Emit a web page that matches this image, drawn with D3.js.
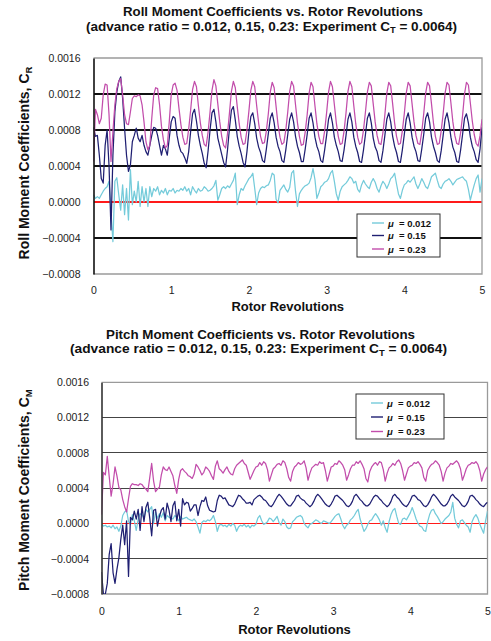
<!DOCTYPE html>
<html>
<head>
<meta charset="utf-8">
<script src="https://cdn.jsdelivr.net/npm/d3@7"></script>
<style>
  body { margin: 0; background: #fff; }
  svg { display: block; }
</style>
</head>
<body>
<svg id="chart" width="491" height="641"></svg>
<script>
// ---- data -------------------------------------------------------------
const revolutionTicks = [0, 1, 2, 3, 4, 5];
const coefficientTicks = [-0.0008, -0.0004, 0, 0.0004, 0.0008, 0.0012, 0.0016];
const seriesLabels = ["0.012", "0.15", "0.23"];
const seriesColors = ["#74cbda", "#1f1f72", "#c24dab"];

const SAMPLE_STEP = 0.025;   // rotor revolutions between samples
const UNIT = 1e-4;           // coefficient arrays are stored in units of 1e-4

// Roll moment coefficient, advance ratio 0.012
const rollMu012 = [
  0.8,0.4,0.6,0.4,0.8,1.2,1.5,1.7,2.3,-1.1,
  -4.4,2.3,2.7,0.8,-0.9,1.9,-1.4,1.5,-2.0,3.6,
  -0.3,1.2,0.0,2.3,-0.5,1.7,0.0,1.5,-0.5,1.7,
  0.6,1.5,1.2,1.7,0.8,1.3,1.0,1.5,0.8,1.3,
  1.2,1.5,1.0,1.3,1.2,1.5,1.3,1.7,1.2,1.5,
  0.8,1.7,1.3,1.0,1.5,1.2,1.3,1.7,1.5,1.2,
  1.3,1.5,1.8,2.4,0.2,0.8,1.5,1.7,1.5,1.8,
  1.6,2.0,2.4,3.2,-0.3,0.8,1.5,1.3,1.8,2.2,
  2.6,
  2.8,3.2,1.5,-0.3,1.0,1.5,1.7,1.6,1.8,1.9,
  2.4,3.2,3.0,0.3,-0.1,1.3,1.6,1.9,1.4,1.1,
  1.6,3.2,3.5,1.2,-0.5,0.9,1.3,1.6,1.8,1.9,
  2.1,2.7,3.7,2.5,0.4,1.0,1.7,1.9,2.2,2.3,
  2.6,3.2,3.5,2.3,0.9,0.2,1.2,1.7,1.9,2.1,
  2.4,2.8,2.6,2.1,2.3,1.4,1.1,1.9,2.4,2.0,
  1.7,1.5,2.2,2.6,2.2,1.5,1.1,1.8,2.3,2.0,
  1.5,2.0,2.6,2.8,3.2,2.0,0.9,0.4,1.3,1.9,
  2.1,2.4,2.2,2.5,2.8,2.0,1.5,2.0,2.6,2.2,
  1.7,1.5,2.1,2.8,3.0,3.2,2.4,1.7,1.5,2.0,
  2.3,2.4,2.6,2.3,1.9,2.2,2.5,2.6,2.7,2.8,
  2.5,2.3,1.4,0.2,1.1,1.9,2.6,3.0,1.1,2.6
];

// Roll moment coefficient, advance ratio 0.15
const rollMu015 = [
  8.3,7.3,7.4,5.2,2.6,2.1,6.3,8.0,4.0,-3.1,
  5.2,10.0,12.2,13.4,13.9,11.5,8.2,5.2,3.4,4.1,
  6.7,7.4,8.2,7.1,6.7,7.4,6.3,5.6,5.2,6.3,
  7.4,8.3,8.2,7.4,6.3,5.2,6.3,5.9,5.2,7.1,
  8.9,9.5,9.3,7.4,6.3,5.6,5.4,4.9,4.3,5.6,
  7.8,9.8,10.3,9.0,7.4,6.3,5.4,4.3,3.8,5.7,
  8.0,9.9,10.3,8.9,7.1,6.2,5.3,4.4,3.9,5.8,
  8.2,10.2,10.6,9.1,7.3,6.2,5.4,4.4,3.9,5.6,
  7.8,9.5,9.9,8.7,7.1,6.1,5.5,4.6,4.4,5.9,
  7.6,9.3,9.9,8.8,7.2,6.2,5.6,4.6,4.4,5.8,
  7.5,9.2,9.9,8.9,7.3,6.2,5.5,4.5,4.5,5.9,
  7.5,9.3,9.9,8.8,7.2,6.2,5.6,4.6,4.4,5.8,
  7.4,9.2,9.9,8.8,7.2,6.3,5.6,4.6,4.5,5.8,
  7.4,9.2,9.9,8.9,7.2,6.2,5.5,4.5,4.4,5.8,
  7.5,9.3,9.9,8.8,7.1,6.1,5.6,4.6,4.4,5.7,
  7.4,9.2,9.9,8.9,7.3,6.2,5.5,4.5,4.4,5.8,
  7.5,9.2,9.9,8.8,7.2,6.2,5.6,4.6,4.5,5.9,
  7.5,9.3,9.9,8.9,7.2,6.2,5.5,4.6,4.4,5.7,
  7.4,9.2,9.9,8.8,7.2,6.1,5.5,4.5,4.4,5.8,
  7.5,9.3,9.8,8.8,7.2,6.2,5.6,4.7,4.4,5.9,
  8.3
];

// Roll moment coefficient, advance ratio 0.23
const rollMu023 = [
  4.5,10.3,9.7,8.7,9.3,11.9,13.1,13.0,9.7,4.5,
  7.8,10.8,12.6,13.4,13.7,11.9,9.7,8.7,8.6,10.0,
  11.5,11.8,11.7,11.9,11.8,10.8,8.9,6.7,5.8,6.3,
  9.3,11.9,12.7,12.6,10.8,8.4,6.9,6.0,6.3,8.9,
  11.9,13.0,13.2,12.4,10.4,8.6,7.2,6.4,6.5,8.1,
  10.2,12.5,13.4,12.8,10.7,8.8,7.4,6.4,6.2,7.8,
  10.0,12.4,13.6,12.9,10.9,8.9,7.3,6.3,6.0,7.6,
  9.9,12.3,13.4,12.7,10.6,8.7,7.2,6.4,6.5,8.0,
  10.1,12.4,13.4,12.8,10.7,8.8,7.3,6.5,6.6,7.9,
  9.8,12.2,13.3,12.7,10.6,8.6,7.2,6.4,6.6,8.0,
  10.0,12.3,13.4,12.9,10.8,8.8,7.3,6.3,6.4,7.8,
  9.7,12.1,13.3,12.8,10.7,8.7,7.3,6.5,6.5,7.9,
  9.9,12.2,13.4,12.8,10.8,8.8,7.3,6.4,6.5,7.9,
  9.9,12.3,13.4,12.8,10.7,8.7,7.2,6.4,6.6,8.0,
  10.0,12.2,13.3,12.9,10.9,8.9,7.4,6.5,6.4,7.7,
  9.7,12.1,13.3,12.9,10.9,8.8,7.3,6.4,6.5,7.9,
  9.8,12.1,13.3,12.9,10.9,8.9,7.4,6.5,6.4,7.8,
  9.8,12.1,13.3,12.9,10.9,8.8,7.3,6.4,6.5,7.9,
  9.8,12.1,13.3,13.0,11.0,8.9,7.4,6.5,6.4,7.7,
  9.6,12.0,13.3,13.0,11.0,9.0,7.5,6.5,6.2,7.4,
  9.2
];

// Pitch moment coefficient, advance ratio 0.012
const pitchMu012 = [
  -0.1,-0.3,-0.2,-0.4,-0.3,-0.5,-0.2,-0.6,-0.4,-0.9,
  -0.3,0.9,1.3,1.5,0.2,-0.1,1.0,0.3,-0.8,0.5,
  1.1,1.0,0.6,1.6,1.3,1.6,1.9,0.0,1.3,0.6,
  1.1,0.7,1.2,0.3,0.9,0.7,0.6,0.5,0.9,0.7,
  0.3,0.8,0.5,0.6,0.7,0.5,0.4,0.3,0.5,0.2,
  -0.4,-1.1,0.1,0.3,0.2,0.4,0.3,0.5,0.9,0.2,
  -0.9,-0.2,-0.1,-0.3,-0.2,-0.4,-0.1,-0.3,0.0,-0.2,
  -0.9,-0.4,-0.2,-0.3,-0.1,-0.4,-0.2,-0.5,-0.2,-0.3,
  -0.1,
  0.6,0.9,0.3,-0.1,0.0,0.2,0.6,0.5,0.2,0.5,
  0.8,0.1,-0.2,0.5,0.2,-0.4,-0.6,-0.5,0.2,0.4,
  0.7,0.8,0.9,0.7,0.0,-0.3,-0.5,-0.1,0.0,0.2,
  0.4,0.3,0.1,0.0,0.3,0.2,0.1,0.0,0.2,0.5,
  0.8,1.0,1.1,0.5,-0.2,-0.6,-0.2,0.0,0.4,0.6,
  0.9,1.3,1.6,0.5,-0.2,-0.9,-0.6,-0.1,0.3,0.4,
  0.8,1.1,0.8,0.4,-0.2,0.3,-0.5,-1.0,0.2,1.0,
  1.5,1.7,0.8,0.0,-0.1,0.5,0.6,0.4,0.8,1.2,
  1.8,1.2,0.5,0.0,-0.3,-0.4,-0.8,-0.9,0.2,1.0,
  1.5,1.6,1.1,0.8,0.4,0.0,0.2,0.5,0.7,0.9,
  1.3,2.4,0.6,-0.1,-0.5,0.3,0.4,0.1,-0.2,-0.4,
  -1.0,0.2,0.7,1.0,0.6,-0.1,-0.6,-1.1,0.3,1.4
];

// Pitch moment coefficient, advance ratio 0.15
const pitchMu015 = [
  -5.5,-8.0,-8.0,-6.8,-3.5,-2.3,-5.6,-6.8,-5.2,-3.9,
  -1.8,-0.2,-2.4,0.3,-6.0,0.7,0.4,1.4,0.5,1.6,
  -0.8,1.9,0.2,1.8,2.4,0.6,-1.4,1.5,1.6,-0.3,
  0.8,1.5,1.8,0.5,2.3,1.5,0.2,2.0,2.5,0.3,
  1.6,-0.3,2.8,2.1,2.4,2.3,1.4,1.7,2.1,2.1,
  0.9,1.9,2.6,2.5,3.0,2.0,1.5,1.4,1.3,1.4,
  2.6,3.2,3.1,2.8,2.9,2.5,2.1,2.0,1.9,2.2,
  2.7,3.2,3.1,2.8,2.6,2.3,2.3,2.4,2.1,2.7,
  2.9,
  3.1,3.2,3.0,2.7,2.6,2.3,2.0,1.9,2.2,2.6,
  3.0,3.3,3.1,2.8,2.5,2.2,2.0,2.0,2.3,2.6,
  3.1,3.2,2.9,2.7,2.6,2.3,2.1,1.9,2.1,2.5,
  3.0,3.3,3.1,2.8,2.5,2.2,2.0,1.9,2.2,2.6,
  3.1,3.2,3.0,2.8,2.6,2.3,2.0,1.9,2.1,2.5,
  3.1,3.3,3.0,2.7,2.5,2.2,2.0,2.0,2.2,2.6,
  3.0,3.2,3.1,2.8,2.6,2.3,2.1,1.9,2.1,2.5,
  3.1,3.3,3.0,2.8,2.5,2.2,2.0,1.9,2.2,2.6,
  3.1,3.2,3.0,2.7,2.6,2.3,2.0,1.9,2.1,2.5,
  3.0,3.3,3.1,2.8,2.5,2.2,2.0,2.0,2.2,2.6,
  3.1,3.3,3.0,2.8,2.6,2.3,2.0,1.9,2.1,2.5,
  3.1,3.2,3.0,2.7,2.5,2.2,2.0,1.9,2.2,2.4
];

// Pitch moment coefficient, advance ratio 0.23
const pitchMu023 = [
  1.0,5.8,5.5,7.6,5.3,3.1,4.5,6.4,5.4,4.1,
  3.8,2.7,1.9,1.3,2.8,4.2,4.5,4.4,4.4,4.3,
  4.5,4.4,4.1,3.9,3.6,5.2,6.8,4.8,3.6,3.9,
  4.1,5.5,6.4,6.1,6.0,6.4,5.9,5.4,4.3,3.4,
  5.0,6.0,6.2,5.9,5.7,5.4,5.3,5.1,5.6,6.7,
  6.4,6.0,5.5,5.8,6.4,6.2,5.9,5.4,5.0,6.5,
  7.1,6.2,6.0,5.7,6.1,6.4,5.9,5.6,5.5,6.2,
  6.6,6.8,7.0,7.2,6.8,6.6,5.8,5.0,5.5,6.0,
  6.4,
  6.5,6.9,6.6,7.0,6.8,6.1,4.8,5.5,6.2,6.4,
  6.7,6.8,6.6,7.1,6.9,6.2,5.2,4.8,5.9,6.4,
  6.6,6.9,6.7,6.8,7.1,6.3,4.9,5.7,6.3,6.5,
  6.7,6.6,7.0,6.8,6.9,6.0,4.8,5.6,6.4,6.5,
  6.8,6.7,7.1,6.9,6.6,6.1,4.9,5.5,6.2,6.6,
  6.6,7.0,6.8,7.1,6.7,6.2,5.1,4.7,5.9,6.4,
  6.7,6.9,6.6,7.0,6.9,6.1,4.8,5.7,6.3,6.5,
  6.8,6.6,7.0,7.2,6.8,6.0,4.9,5.6,6.3,6.5,
  6.6,6.9,6.8,7.0,6.7,6.3,5.2,4.8,6.0,6.4,
  6.7,6.8,7.1,6.9,6.6,5.9,4.8,5.7,6.3,6.5,
  6.8,6.7,6.9,7.1,6.8,6.2,4.9,5.5,6.2,6.6,
  6.7,6.9,6.8,7.0,6.7,6.0,4.8,5.6,6.1,6.4
];

// ---- drawing ----------------------------------------------------------
const svg = d3.select("#chart");
const TEXT_FONT = "'Liberation Sans', Arial, sans-serif";

const panels = [
  {
    id: "roll",
    titleLine1: "Roll Moment Coefficients vs. Rotor Revolutions",
    titleLine2: ["(advance ratio = 0.012, 0.15, 0.23: Experiment C", "T", " = 0.0064)"],
    titleX: [273, 271.5], titleY: [16, 30.5], titleWidth: [300, 371],
    yLabel: ["Roll Moment Coefficients, C", "R"],
    series: [rollMu012, rollMu015, rollMu023],
    left: 93.5, right: 482, top: 58, bottom: 274,
    gridColor: "#111", axisColor: "#111",
    legend: { x: 357, y: 214, w: 83, h: 43, rows: [223, 235.5, 249] },
    xTickPad: 13, yTickPad: 13, xTitleY: 311, yTitleX: 29, yTitleShift: -3
  },
  {
    id: "pitch",
    titleLine1: "Pitch Moment Coefficients vs. Rotor Revolutions",
    titleLine2: ["(advance ratio = 0.012, 0.15, 0.23: Experiment C", "T", " = 0.0064)"],
    titleX: [260.5, 258.5], titleY: [338.5, 353], titleWidth: [309, 377],
    yLabel: ["Pitch Moment Coefficients, C", "M"],
    series: [pitchMu012, pitchMu015, pitchMu023],
    left: 101.5, right: 487.5, top: 382.3, bottom: 594,
    gridColor: "#444", axisColor: "#333",
    legend: { x: 356, y: 394, w: 88, h: 45, rows: [403, 417, 431.5] },
    xTickPad: 14, yTickPad: 12.5, xTitleY: 634, yTitleX: 29, yTitleShift: 2
  }
];

const fmtCoef = d3.format(".4f");

panels.forEach(p => {
  const x = d3.scaleLinear().domain([0, 5]).range([p.left, p.right]);
  const y = d3.scaleLinear().domain([-0.0008, 0.0016]).range([p.bottom, p.top]);
  const g = svg.append("g").attr("class", p.id);

  // title: two separate lines, subscript T on the second
  const titleText = (i) => g.append("text")
    .attr("x", p.titleX[i]).attr("y", p.titleY[i])
    .attr("text-anchor", "middle")
    .attr("font-family", TEXT_FONT)
    .attr("font-weight", "bold")
    .attr("font-size", 12.4)
    .attr("fill", "#111")
    .attr("textLength", p.titleWidth[i])
    .attr("lengthAdjust", "spacingAndGlyphs");
  titleText(0).text(p.titleLine1);
  const l2 = titleText(1);
  l2.append("tspan").text(p.titleLine2[0]);
  l2.append("tspan").attr("font-size", 8.5).attr("dy", 2.5).text(p.titleLine2[1]);
  l2.append("tspan").attr("dy", -2.5).text(p.titleLine2[2]);

  // horizontal gridlines
  g.append("g").selectAll("line")
    .data(coefficientTicks.filter(v => v > -0.0008 && v < 0.0016))
    .join("line")
    .attr("x1", p.left).attr("x2", p.right)
    .attr("y1", d => y(d)).attr("y2", d => y(d))
    .attr("stroke", d => d === 0 ? "#ff1a1a" : p.gridColor)
    .attr("stroke-width", 1.1)
    .attr("shape-rendering", "crispEdges");

  // plot frame: grey on top, right and bottom
  g.append("path")
    .attr("d", `M${p.left},${p.top}H${p.right}V${p.bottom}H${p.left}`)
    .attr("fill", "none").attr("stroke", "#9a9a9a").attr("stroke-width", 1.3);

  // series
  const clipId = "clip-" + p.id;
  g.append("clipPath").attr("id", clipId)
    .append("rect").attr("x", p.left).attr("y", p.top)
    .attr("width", p.right - p.left).attr("height", p.bottom - p.top);

  const line = d3.line()
    .x((d, i) => x(i * SAMPLE_STEP))
    .y(d => y(d * UNIT));

  g.append("g").attr("clip-path", `url(#${clipId})`)
    .selectAll("path")
    .data(p.series)
    .join("path")
    .attr("d", d => line(d))
    .attr("fill", "none")
    .attr("stroke", (d, i) => seriesColors[i])
    .attr("stroke-width", 1.25)
    .attr("stroke-linejoin", "round");

  // y axis
  const yAxis = d3.axisLeft(y).tickValues(coefficientTicks)
    .tickSize(0).tickPadding(p.yTickPad).tickFormat(fmtCoef);
  const ya = g.append("g").attr("transform", `translate(${p.left},0)`).call(yAxis);
  ya.select(".domain").attr("stroke", p.axisColor).attr("stroke-width", 1.6);
  ya.selectAll("text").attr("font-family", TEXT_FONT).attr("font-size", 10.5).attr("fill", "#222");

  // x axis
  const xAxis = d3.axisBottom(x).tickValues(revolutionTicks)
    .tickSize(0).tickPadding(p.xTickPad).tickFormat(d3.format("d"));
  const xa = g.append("g").attr("transform", `translate(0,${p.bottom})`).call(xAxis);
  xa.select(".domain").remove();
  xa.selectAll("text").attr("font-family", TEXT_FONT).attr("font-size", 10.5).attr("fill", "#222");

  // axis titles
  g.append("text")
    .attr("x", (p.left + p.right) / 2).attr("y", p.xTitleY)
    .attr("text-anchor", "middle")
    .attr("font-family", TEXT_FONT).attr("font-weight", "bold")
    .attr("font-size", 13).attr("fill", "#111")
    .text("Rotor Revolutions");

  const yt = g.append("text")
    .attr("transform", `translate(${p.yTitleX},${(p.top + p.bottom) / 2 + p.yTitleShift}) rotate(-90)`)
    .attr("text-anchor", "middle")
    .attr("font-family", TEXT_FONT).attr("font-weight", "bold")
    .attr("font-size", 14).attr("fill", "#111");
  yt.append("tspan").text(p.yLabel[0]);
  yt.append("tspan").attr("font-size", 9.5).attr("dy", 3).text(p.yLabel[1]);

  // legend
  const L = p.legend;
  const lg = g.append("g");
  lg.append("rect")
    .attr("x", L.x).attr("y", L.y).attr("width", L.w).attr("height", L.h)
    .attr("fill", "#fff").attr("stroke", "#333").attr("stroke-width", 1);
  seriesLabels.forEach((lab, i) => {
    lg.append("line")
      .attr("x1", L.x + 15).attr("x2", L.x + 27)
      .attr("y1", L.rows[i]).attr("y2", L.rows[i])
      .attr("stroke", seriesColors[i]).attr("stroke-width", 1.4);
    const tx = lg.append("text")
      .attr("x", L.x + 31).attr("y", L.rows[i] + 3.5)
      .attr("font-family", TEXT_FONT).attr("font-weight", "bold")
      .attr("font-size", 9.5).attr("fill", "#111");
    tx.append("tspan").attr("font-style", "italic").text("\u03bc");
    tx.append("tspan").text("  = " + lab).attr("xml:space", "preserve");
  });
});
</script>
</body>
</html>
